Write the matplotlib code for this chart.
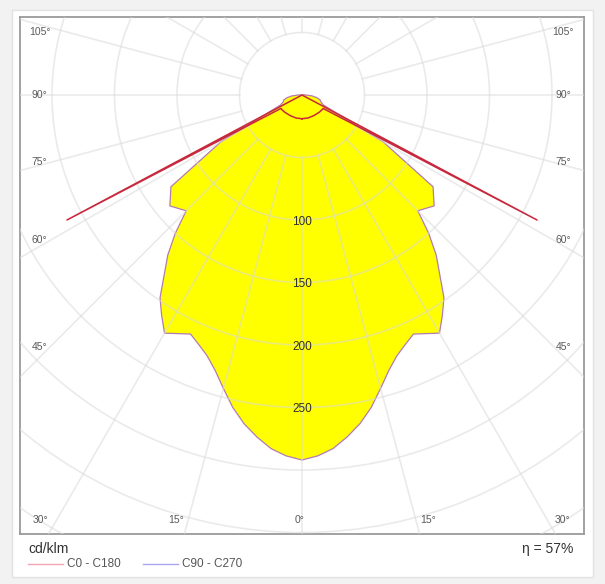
import numpy as np
import matplotlib.pyplot as plt
from matplotlib.patches import Rectangle, Circle
from matplotlib.lines import Line2D

plt.rcParams['font.family'] = ['Liberation Sans', 'DejaVu Sans']

# luminous intensity, cd/klm, gamma measured from nadir
gamma_c90 = [0, 2.5, 5, 7.5, 10, 12.5, 15, 17.5, 20, 22.5, 25, 30, 32.5, 35, 37.5, 40, 42.5, 45,
             50, 55, 60, 65, 70, 75, 80, 85, 90, 100, 120, 180]
int_c90 = [292, 289, 284, 276, 267, 256, 243, 231, 222, 216, 211, 220, 209, 198, 181, 167, 150, 131,
           138, 128, 75, 19, 16, 15, 12, 8, 3, 1, 0, 0]

gamma_c0 = [0, 15, 30, 45, 55, 57.5, 62, 65, 90, 180]
int_c0 = [19, 19, 19, 19.5, 20, 20, 213, 0, 0, 0]

rings = [50, 100, 150, 200, 250, 300, 350, 400, 450]
ring_labels = [100, 150, 200, 250]
side_labels = ['105°', '90°', '75°', '60°', '45°']
bottom_labels = ['30°', '15°', '0°', '15°', '30°']
efficiency = 57


def polar_to_xy(gamma, intensity):
    # mirror the half profile to get a closed curve (right half, then left half)
    g = np.radians(gamma)
    i = np.asarray(intensity, dtype=float)
    xr = i * np.sin(g)
    yr = -i * np.cos(g)
    x = np.concatenate([xr, -xr[::-1]])
    y = np.concatenate([yr, yr[::-1]])
    return x, y


W, H = 605, 584
fig = plt.figure(figsize=(W / 100, H / 100), dpi=100, facecolor='#f2f2f2')
fig.add_artist(Rectangle((12 / W, 7 / H), 581 / W, 567 / H, transform=fig.transFigure,
                         facecolor='white', edgecolor='#e2e2e2', lw=1, zorder=-10))

# axes box in pixels: x 20..584, y 17..534 ; 1.25 px per cd/klm, center at (302, 95)
ax = fig.add_axes([20 / W, (H - 534) / H, 564 / W, 517 / H])
ax.set_xlim(-225.6, 225.6)
ax.set_ylim(-351.2, 62.4)
ax.set_xticks([])
ax.set_yticks([])
for s in ax.spines.values():
    s.set_color('#9a9a9a')
    s.set_linewidth(1.3)

# filled C90 - C270 curve
x90, y90 = polar_to_xy(gamma_c90, int_c90)
ax.fill(x90, y90, facecolor='#ffff00', edgecolor='#b47ab4', lw=0.9, zorder=2)

# grid drawn over the fill
grid_kw = dict(color='#dadada', lw=1.2, alpha=0.55, zorder=3)
for r in rings:
    ax.add_patch(Circle((0, 0), r, fill=False, ec=grid_kw['color'], lw=1.2,
                        alpha=grid_kw['alpha'], zorder=3))
for a in range(0, 360, 15):
    t = np.radians(a)
    ax.plot([50 * np.sin(t), 600 * np.sin(t)], [-50 * np.cos(t), -600 * np.cos(t)], **grid_kw)

# C0 - C180 curve
x0, y0 = polar_to_xy(gamma_c0, int_c0)
ax.plot(x0, y0, color='#c8283c', lw=1.1, zorder=4)

for v in ring_labels:
    ax.text(0, -v - 1.6, str(v), ha='center', va='center', fontsize=8.5, color='#2e2e2a', zorder=5)

side_y = [50.4, 0, -53.6, -116, -201.6]
for lab, yy in zip(side_labels, side_y):
    ax.text(-210, yy, lab, ha='center', va='center', fontsize=7.5, color='#5a5a5a')
    ax.text(209, yy, lab, ha='center', va='center', fontsize=7.5, color='#5a5a5a')
bottom_x = [-209.6, -100.8, -1.6, 100.8, 208]
for lab, xx in zip(bottom_labels, bottom_x):
    ax.text(xx, -340, lab, ha='center', va='center', fontsize=7.5, color='#5a5a5a')

# footer
fig.text(28 / W, 1 - 549 / H, 'cd/klm', fontsize=10, va='center', color='#333333')
fig.text(573 / W, 1 - 549 / H, 'η = %d%%' % efficiency, fontsize=10, va='center', ha='right', color='#333333')
ly = 1 - 564 / H
fig.add_artist(Line2D([28 / W, 63 / W], [ly, ly], transform=fig.transFigure, color='#f5a3b0', lw=1))
fig.text(67 / W, ly, 'C0 - C180', fontsize=8.5, va='center', color='#555555')
fig.add_artist(Line2D([143 / W, 178 / W], [ly, ly], transform=fig.transFigure, color='#a8a8f0', lw=1))
fig.text(182 / W, ly, 'C90 - C270', fontsize=8.5, va='center', color='#555555')

fig.savefig('out.png', dpi=100, facecolor=fig.get_facecolor())
